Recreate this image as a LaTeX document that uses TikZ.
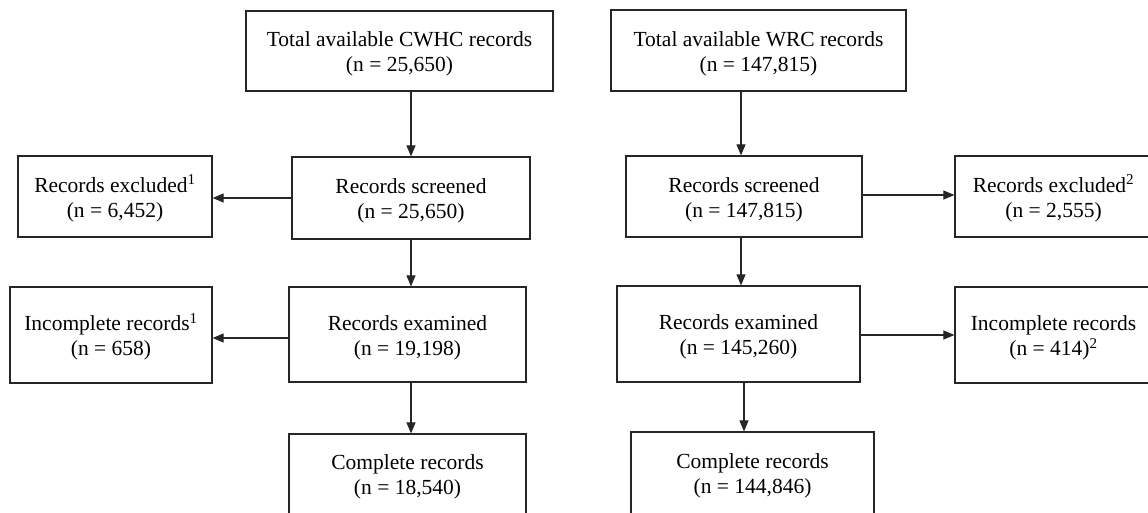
\documentclass[tikz,border=0pt]{standalone}
\usepackage{fontspec}
\setmainfont{Liberation Serif}
\usetikzlibrary{arrows.meta,calc}
\newcommand{\tstrut}{\rule{0pt}{21pt}}
\begin{document}
\begin{tikzpicture}[x=1pt,y=-1pt,
  box/.style={draw=black!85,line width=1.2pt,rectangle,inner sep=0pt,align=center,
    font=\fontsize{21.5}{25}\selectfont},
  arr/.style={draw=black!85,line width=1.1pt,-{Triangle[length=11pt,width=9pt]}}]
\useasboundingbox (0,0) rectangle (1148,512);
\clip (0,0) rectangle (1148,512);
% left column
\node[box,minimum width=307pt,minimum height=80pt] (A1) at (399.5,51) {\tstrut Total available CWHC records\\(n = 25,650)};
\node[box,minimum width=238pt,minimum height=82pt] (A2) at (411,198) {\tstrut Records screened\\(n = 25,650)};
\node[box,minimum width=194pt,minimum height=81pt] (A3) at (115,196.5) {\tstrut Records excluded\textsuperscript{1}\\(n = 6,452)};
\node[box,minimum width=237pt,minimum height=95pt] (A4) at (407.5,334.5) {\tstrut Records examined\\(n = 19,198)};
\node[box,minimum width=202pt,minimum height=96pt] (A5) at (111,335) {\tstrut Incomplete records\textsuperscript{1}\\(n = 658)};
\node[box,minimum width=237pt,minimum height=80pt] (A6) at (407.5,474) {\tstrut Complete records\\(n = 18,540)};
% right column
\node[box,minimum width=295pt,minimum height=81pt] (B1) at (758.5,50.5) {\tstrut Total available WRC records\\(n = 147,815)};
\node[box,minimum width=236pt,minimum height=81pt] (B2) at (744,196.5) {\tstrut Records screened\\(n = 147,815)};
\node[box,minimum width=197pt,minimum height=81pt] (B3) at (1053.5,196.5) {\tstrut Records excluded\textsuperscript{2}\\(n = 2,555)};
\node[box,minimum width=243pt,minimum height=96pt] (B4) at (738.5,334) {\tstrut Records examined\\(n = 145,260)};
\node[box,minimum width=197pt,minimum height=96pt] (B5) at (1053.5,335) {\tstrut Incomplete records\\(n = 414)\textsuperscript{2}};
\node[box,minimum width=243pt,minimum height=82pt] (B6) at (752.5,473) {\tstrut Complete records\\(n = 144,846)};
% connectors left
\draw[arr] (A1.south -| A2.north) -- (A2.north);
\draw[arr] (A2.west) -- (A2.west -| A3.east);
\draw[arr] (A2.south) -- (A2.south |- A4.north);
\draw[arr] (A4.west |- 0,338) -- (A5.east |- 0,338);
\draw[arr] (A4.south -| A2.south) -- (A2.south |- A6.north);
% connectors right
\coordinate (bx) at (741,0);
\draw[arr] (B1.south -| bx) -- (B2.north -| bx);
\draw[arr] (B2.east |- 0,195) -- (B3.west |- 0,195);
\draw[arr] (B2.south -| bx) -- (B4.north -| bx);
\draw[arr] (B4.east |- 0,335) -- (B5.west |- 0,335);
\draw[arr] (B4.south -| B2.south) -- (B2.south |- B6.north);
\end{tikzpicture}
\end{document}
